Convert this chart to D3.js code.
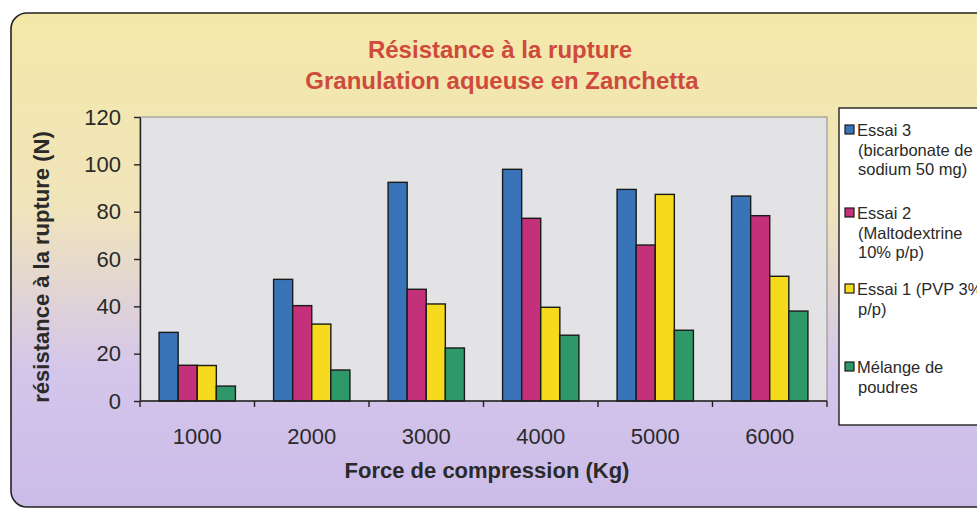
<!DOCTYPE html>
<html>
<head>
  <meta charset="utf-8">
  <title>Résistance à la rupture</title>
  <script src="https://cdn.jsdelivr.net/npm/d3@7"></script>
  <style>
    html, body { margin: 0; padding: 0; background: #fff; }
    svg { display: block; font-family: "Liberation Sans", Arial, sans-serif; }
  </style>
</head>
<body>
<svg id="chart" width="977" height="510"></svg>
<script>
  // data
  var categories = ['1000', '2000', '3000', '4000', '5000', '6000'];
  var seriesNames = ['Essai 3', 'Essai 2', 'Essai 1', 'Mélange'];
  var essai3 = [29, 51.4, 92.4, 97.9, 89.4, 86.6];
  var essai2 = [15.1, 40.3, 47.2, 77.2, 65.9, 78.3];
  var essai1 = [15, 32.5, 41, 39.6, 87.3, 52.7];
  var melange = [6.3, 13.1, 22.4, 27.8, 29.9, 38];
  var yTicks = [0, 20, 40, 60, 80, 100, 120];
  var colors = ['#3a74b8', '#c4307a', '#f6da1e', '#2f9868'];
  var legendLabels = [
    ['Essai 3', '(bicarbonate de', 'sodium 50 mg)'],
    ['Essai 2', '(Maltodextrine', '10% p/p)'],
    ['Essai 1 (PVP 3%', 'p/p)'],
    ['Mélange de', 'poudres']
  ];

  var values = [essai3, essai2, essai1, melange];

  var svg = d3.select('#chart');

  // chart area background
  var defs = svg.append('defs');
  var grad = defs.append('linearGradient')
    .attr('id', 'bg').attr('x1', 0).attr('y1', 0).attr('x2', 0).attr('y2', 1);
  grad.append('stop').attr('offset', '0%').attr('stop-color', '#f4e8a8');
  grad.append('stop').attr('offset', '40%').attr('stop-color', '#f0e4bc');
  grad.append('stop').attr('offset', '72%').attr('stop-color', '#d4c6ea');
  grad.append('stop').attr('offset', '100%').attr('stop-color', '#cbbbe9');

  svg.append('rect')
    .attr('x', 11).attr('y', 13)
    .attr('width', 1000).attr('height', 494)
    .attr('rx', 16).attr('ry', 16)
    .attr('fill', 'url(#bg)')
    .attr('stroke', '#222')
    .attr('stroke-width', 1.6);

  var margin = {left: 140, top: 117, right: 827, bottom: 401};

  var x0 = d3.scaleBand()
    .domain(categories)
    .range([margin.left, margin.right])
    .padding(0);

  var x1 = d3.scaleBand()
    .domain(seriesNames)
    .range([0, x0.bandwidth()])
    .paddingInner(0)
    .paddingOuter(1);

  var y = d3.scaleLinear()
    .domain([0, 120])
    .range([margin.bottom, margin.top]);

  // plot area
  svg.append('rect')
    .attr('x', margin.left).attr('y', margin.top)
    .attr('width', margin.right - margin.left)
    .attr('height', margin.bottom - margin.top)
    .attr('fill', '#e3e3e5')
    .attr('stroke', '#8a8a8a')
    .attr('stroke-width', 1);

  // bars
  var groups = svg.append('g').selectAll('g')
    .data(values)
    .enter()
    .append('g')
    .attr('fill', function(d, i) { return colors[i]; });

  groups.selectAll('rect')
    .data(function(d, i) {
      return d.map(function(v, j) { return {s: seriesNames[i], c: categories[j], v: v}; });
    })
    .enter()
    .append('rect')
    .attr('x', function(d) { return x0(d.c) + x1(d.s); })
    .attr('y', function(d) { return y(d.v); })
    .attr('width', x1.bandwidth())
    .attr('height', function(d) { return y(0) - y(d.v); })
    .attr('stroke', '#1a1a1a')
    .attr('stroke-width', 1.4);

  // y axis
  var yAxis = svg.append('g')
    .attr('transform', 'translate(' + margin.left + ',0)')
    .call(d3.axisLeft(y).tickValues(yTicks).tickSize(6).tickSizeOuter(0).tickPadding(13));
  yAxis.select('.domain').attr('stroke', '#222').attr('stroke-width', 1.4);
  yAxis.selectAll('line').attr('stroke', '#222').attr('stroke-width', 1.4);
  yAxis.selectAll('text')
    .attr('font-size', 22)
    .attr('fill', '#2a2a2a')
    .style('font-family', '"Liberation Sans", Arial, sans-serif');

  // x axis, ticks between categories
  var xAxisG = svg.append('g')
    .attr('transform', 'translate(0,' + margin.bottom + ')');
  xAxisG.append('line')
    .attr('x1', margin.left).attr('x2', margin.right)
    .attr('stroke', '#222').attr('stroke-width', 1.4);
  xAxisG.selectAll('.tk')
    .data(categories.concat(['end']))
    .enter()
    .append('line')
    .attr('x1', function(d) { return d === 'end' ? margin.right : x0(d); })
    .attr('x2', function(d) { return d === 'end' ? margin.right : x0(d); })
    .attr('y1', 0).attr('y2', 6)
    .attr('stroke', '#222').attr('stroke-width', 1.4);
  xAxisG.selectAll('text')
    .data(categories)
    .enter()
    .append('text')
    .attr('x', function(d) { return x0(d) + x0.bandwidth() / 2; })
    .attr('y', 43)
    .attr('text-anchor', 'middle')
    .attr('font-size', 22)
    .attr('fill', '#2a2a2a')
    .text(function(d) { return d; });

  // titles
  svg.append('text')
    .attr('x', 500).attr('y', 58)
    .attr('text-anchor', 'middle')
    .attr('font-size', 24).attr('font-weight', 'bold')
    .attr('fill', '#cf4a3c')
    .text('Résistance à la rupture');
  svg.append('text')
    .attr('x', 502).attr('y', 89)
    .attr('text-anchor', 'middle')
    .attr('font-size', 24).attr('font-weight', 'bold')
    .attr('fill', '#cf4a3c')
    .text('Granulation aqueuse en Zanchetta');

  svg.append('text')
    .attr('x', 487).attr('y', 478)
    .attr('text-anchor', 'middle')
    .attr('font-size', 22).attr('font-weight', 'bold')
    .attr('fill', '#2a2a2a')
    .text('Force de compression (Kg)');

  svg.append('text')
    .attr('transform', 'translate(49,267) rotate(-90)')
    .attr('text-anchor', 'middle')
    .attr('font-size', 22).attr('font-weight', 'bold')
    .attr('fill', '#2a2a2a')
    .text('résistance à la rupture (N)');

  // legend
  var legend = svg.append('g');
  legend.append('rect')
    .attr('x', 839).attr('y', 108)
    .attr('width', 150).attr('height', 317)
    .attr('fill', '#fff')
    .attr('stroke', '#222').attr('stroke-width', 1.4);

  var itemY = [136, 219, 295, 373];
  var items = legend.selectAll('.item')
    .data(legendLabels)
    .enter()
    .append('g')
    .attr('transform', function(d, i) { return 'translate(0,' + itemY[i] + ')'; });
  items.append('rect')
    .attr('x', 845).attr('y', -11)
    .attr('width', 9).attr('height', 9)
    .attr('fill', function(d, i) { return colors[i]; })
    .attr('stroke', '#1a1a1a').attr('stroke-width', 1.2);
  items.append('text')
    .attr('x', 857)
    .attr('font-size', 16.5)
    .attr('fill', '#2a2a2a')
    .selectAll('tspan')
    .data(function(d) { return d; })
    .enter()
    .append('tspan')
    .attr('x', function(d, i) { return i === 0 ? 857 : 858; })
    .attr('dy', function(d, i) { return i === 0 ? 0 : 19.5; })
    .text(function(d) { return d; });
</script>
</body>
</html>
